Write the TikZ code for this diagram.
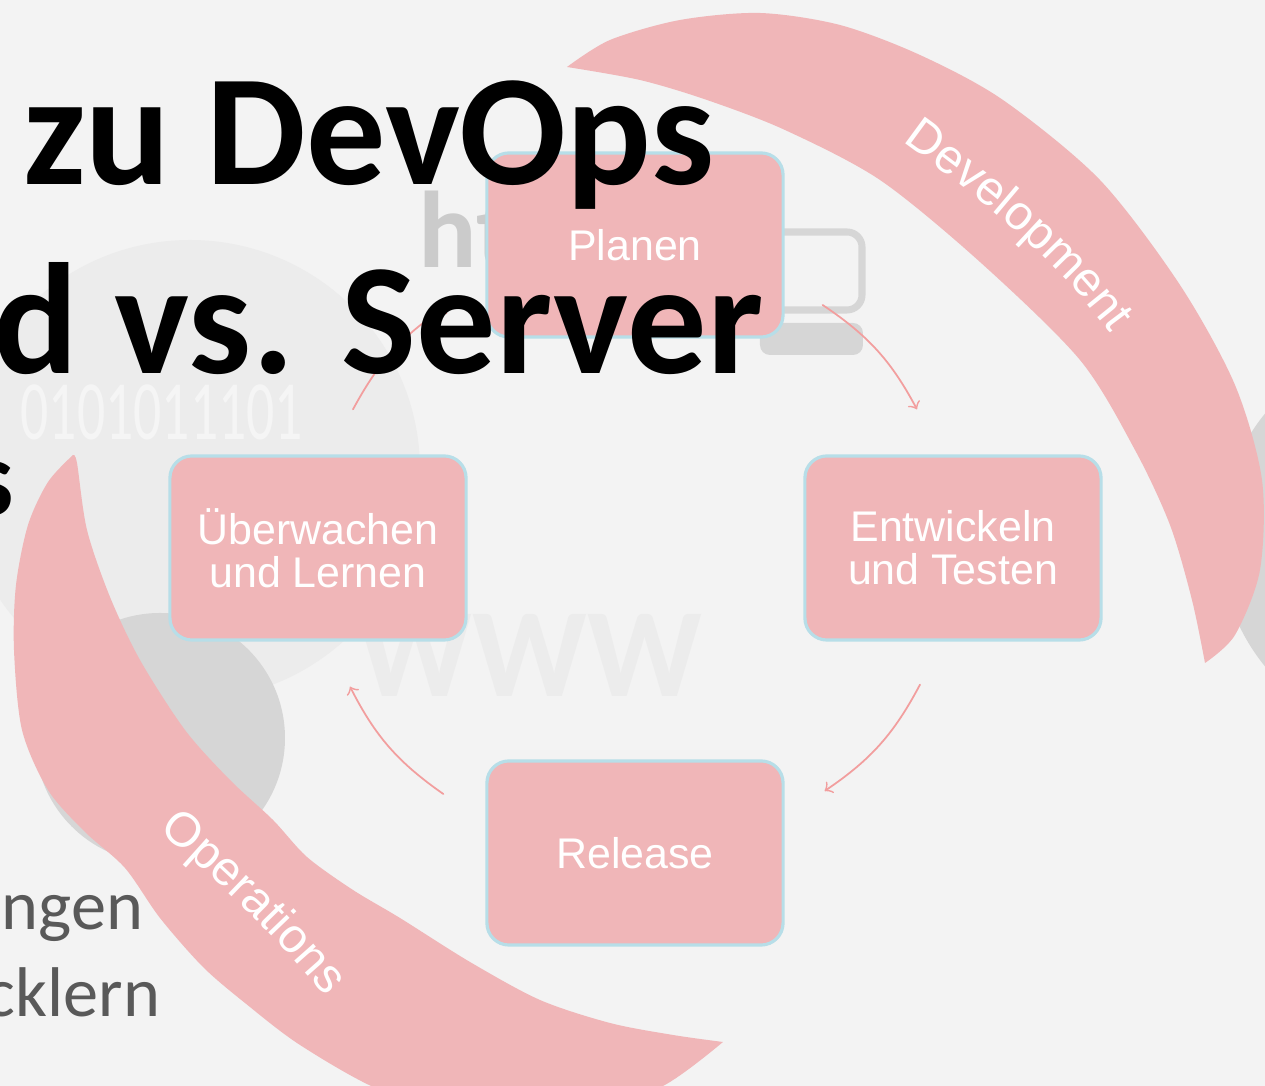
\documentclass[tikz,border=0pt]{standalone}
\usepackage{fontspec}
\setmainfont{Liberation Sans}
\newfontfamily\calibri{Carlito}
\usetikzlibrary{calc,decorations.text}
\definecolor{bg}{RGB}{243,243,243}
\definecolor{circ}{RGB}{236,236,236}
\definecolor{deco}{RGB}{214,214,214}
\definecolor{band}{RGB}{240,182,184}
\definecolor{edge}{RGB}{183,222,232}
\definecolor{flowc}{RGB}{242,158,158}
\definecolor{slidegray}{RGB}{89,89,89}
\begin{document}
\begin{tikzpicture}[x=0.01cm, y=-0.01cm, line join=round, line cap=round, >=to,
    phase/.style={draw=edge, line width=0.9pt, fill=band, rounded corners=0.22cm,
      minimum width=2.96cm, minimum height=1.84cm, align=center, text=white,
      font=\fontsize{12.2}{12.3}\selectfont},
    flow/.style={->, draw=flowc, line width=0.5pt, bend left=14},
    bandtext/.style={decorate, decoration={text along path, text align=center,
      text color=white, text={|\fontsize{13.7}{14}\selectfont|#1}}},
    slide/.style={inner sep=0pt, font=\calibri\bfseries\fontsize{45}{54}\selectfont}]
  \useasboundingbox (0,0) rectangle (1265,1086);
  \clip (0,0) rectangle (1265,1086);
  \fill[bg] (0,0) rectangle (1265,1086);
  % faint background picture
  \fill[circ] (190,470) circle (230);
  \fill[deco] (160,738) circle (125);
  \fill[deco] (1420,540) circle (200);
  \draw[deco, line width=2pt, rounded corners=0.15cm] (762,232) rectangle (862,310);
  \fill[deco, rounded corners=0.1cm] (760,323) rectangle (863,355);
  \node[anchor=base west, inner sep=0pt, text=deco!95!black, font=\calibri\bfseries\fontsize{31}{31}\selectfont] (http) at (418,268) {http};
  \node[anchor=center, inner sep=0pt, text=bg!97!black, font=\calibri\bfseries\fontsize{36}{36}\selectfont] (www) at (530,655) {WWW};
  \node[anchor=base west, inner sep=0pt, text=white!45!circ, font=\calibri\fontsize{24}{24}\selectfont] (bits) at (20,440) {\scalebox{0.66}[1]{0101011101}};
  % big arrows
  \fill[band] plot[smooth] coordinates {(567,67) (610,40) (680,20) (760,13) (840,25) (920,55) (1003,100) (1100,180) (1180,285) (1235,385) (1262,480) (1260,570) (1235,635) (1205,663)}
    -- plot[smooth] coordinates {(1205,663) (1192,600) (1170,525) (1135,450) (1080,360) (980,262) (880,180) (785,130) (707,100) (640,80) (567,67)} -- cycle;
  \fill[band] plot[smooth] coordinates {(73,455) (48,482) (28,525) (16,585) (14,650) (22,730) (48,790) (85,832) (125,868) (160,918) (203,967) (245,1003) (300,1045) (380,1090) (470,1115) (580,1115) (663,1086) (723,1042)}
    -- plot[smooth] coordinates {(723,1042) (673,1035) (610,1023) (540,1000) (470,962) (400,918) (353,890) (307,857) (273,820) (230,780) (185,730) (140,660) (110,597) (87,530) (77,463) (73,455)} -- cycle;
  \path[bandtext=Development] (875,122) .. controls (970,190) and (1065,260) .. (1130,362);
  \path[bandtext=Operations] (132,809) .. controls (202,864) and (287,944) .. (347,1024);
  % phases
  \node[phase] (plan) at (635,245) {Planen};
  \node[phase] (dev) at (953,548) {Entwickeln\\und Testen};
  \node[phase] (rel) at (635,853) {Release};
  \node[phase] (mon) at (318,548) {Überwachen\\und Lernen};
  \draw[flow] ([shift={(38,60)}]plan.east) to ([shift={(-36,-45)}]dev.north);
  \draw[flow] ([shift={(-33,43)}]dev.south) to ([shift={(40,-62)}]rel.east);
  \draw[flow] ([shift={(-42,-59)}]rel.west) to ([shift={(32,45)}]mon.south);
  \draw[flow] ([shift={(35,-45)}]mon.north) to ([shift={(-37,60)}]plan.west);
  % slide text on top
  \node[slide, anchor=base east] (ttl1) at (715,185) {zu DevOps};
  \node[slide, anchor=base east] (ttl2) at (764,374) {d vs. Server};
  \node[inner sep=0pt, anchor=base east, font=\calibri\bfseries\fontsize{31}{31}\selectfont] (ttl3) at (15,516) {s};
  \node[inner sep=0pt, anchor=base east, text=slidegray, font=\calibri\fontsize{20}{20}\selectfont] (txt1) at (144,930) {ngen};
  \node[inner sep=0pt, anchor=base east, text=slidegray, font=\calibri\fontsize{20}{20}\selectfont] (txt2) at (161,1017) {cklern};
\end{tikzpicture}
\end{document}
